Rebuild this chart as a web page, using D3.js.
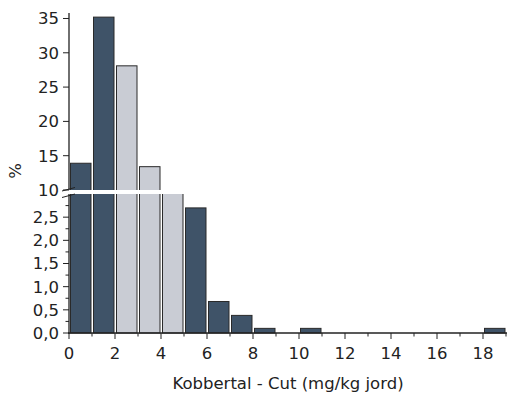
<!DOCTYPE html>
<html>
<head>
  <meta charset="utf-8">
  <style>
    body { margin: 0; background: #fff; }
    text { font-family: "DejaVu Sans", sans-serif; fill: #222; }
  </style>
  <script src="https://d3js.org/d3.v7.min.js"></script>
</head>
<body>
<div id="container"></div>
<script>
// histogram bins (mg/kg) and share of samples (%)
const binStart = [0, 1, 2, 3, 4, 5, 6, 7, 8, 9, 10, 11, 12, 13, 14, 15, 16, 17, 18];
const percent  = [13.9, 35.2, 28.1, 13.4, 9.0, 2.7, 0.68, 0.38, 0.1, 0, 0.1, 0, 0, 0, 0, 0, 0, 0, 0.1];
const shade    = ["d", "d", "l", "l", "l", "d", "d", "d", "d", "d", "d", "d", "d", "d", "d", "d", "d", "d", "d"];
const xTicks = [0, 2, 4, 6, 8, 10, 12, 14, 16, 18];
const lowTicks = [0, 0.5, 1, 1.5, 2, 2.5];
const highTicks = [10, 15, 20, 25, 30, 35];

const width = 507, height = 397;
const colors = { d: "#3f5368", l: "#c9ccd4" };
const fmt = d3.format(".1f");
const fs = 16.5;

const svg = d3.select("#container").append("svg")
  .attr("width", width).attr("height", height);

const x = d3.scaleLinear().domain([0, 19]).range([69, 506]);
const yLow = d3.scaleLinear().domain([0, 3.0]).range([333, 194]);
const yHigh = d3.scaleLinear().domain([10, 35.8]).range([190, 13]);

const defs = svg.append("defs");
defs.append("clipPath").attr("id", "clipLow").append("rect")
  .attr("x", 0).attr("y", 194).attr("width", width).attr("height", 145);
defs.append("clipPath").attr("id", "clipHigh").append("rect")
  .attr("x", 0).attr("y", 0).attr("width", width).attr("height", 190);

const data = binStart.map((b, i) => ({ b: b, v: percent[i], c: shade[i] }));

// lower panel
svg.append("g").attr("clip-path", "url(#clipLow)")
  .selectAll("rect").data(data.filter(d => d.v > 0)).enter().append("rect")
  .attr("x", d => x(d.b) + 1.5)
  .attr("width", d => x(d.b + 1) - x(d.b) - 2.5)
  .attr("y", d => d.v > 3 ? 180 : yLow(d.v))
  .attr("height", d => 333 - (d.v > 3 ? 180 : yLow(d.v)))
  .attr("fill", d => colors[d.c])
  .attr("stroke", "#2a2a2a").attr("stroke-width", 1);

// upper panel
svg.append("g").attr("clip-path", "url(#clipHigh)")
  .selectAll("rect").data(data.filter(d => d.v > 10)).enter().append("rect")
  .attr("x", d => x(d.b) + 1.5)
  .attr("width", d => x(d.b + 1) - x(d.b) - 2.5)
  .attr("y", d => yHigh(d.v))
  .attr("height", d => 200 - yHigh(d.v))
  .attr("fill", d => colors[d.c])
  .attr("stroke", "#2a2a2a").attr("stroke-width", 1);

// axes
const ax = svg.append("g").attr("stroke", "#222").attr("stroke-width", 1.3);
ax.append("line").attr("x1", 69).attr("x2", 69).attr("y1", 13).attr("y2", 190);
ax.append("line").attr("x1", 69).attr("x2", 69).attr("y1", 194).attr("y2", 334);
ax.append("line").attr("x1", 68).attr("x2", 507).attr("y1", 333).attr("y2", 333);

d3.range(0, 3.0, 0.25).forEach(v => {
  const major = Math.abs(v * 2 - Math.round(v * 2)) < 1e-6;
  ax.append("line").attr("x1", major ? 63 : 65.5).attr("x2", 69)
    .attr("y1", yLow(v)).attr("y2", yLow(v)).attr("stroke-width", 1);
});
highTicks.forEach(v => {
  ax.append("line").attr("x1", 63).attr("x2", 69)
    .attr("y1", yHigh(v)).attr("y2", yHigh(v)).attr("stroke-width", 1);
});
d3.range(0, 20, 1).forEach(v => {
  const major = v % 2 === 0;
  ax.append("line").attr("x1", x(v)).attr("x2", x(v))
    .attr("y1", 333).attr("y2", major ? 339 : 336.5).attr("stroke-width", 1);
});

// break marks
ax.append("line").attr("x1", 62).attr("x2", 75).attr("y1", 191).attr("y2", 187.5).attr("stroke-width", 1);
ax.append("line").attr("x1", 62).attr("x2", 75).attr("y1", 197.5).attr("y2", 194).attr("stroke-width", 1);

// tick labels
svg.selectAll(".lowLab").data(lowTicks).enter().append("text")
  .attr("x", 59).attr("y", d => yLow(d)).attr("dy", "0.36em")
  .attr("text-anchor", "end").attr("font-size", fs)
  .text(d => fmt(d).replace(".", ","));
svg.selectAll(".highLab").data(highTicks).enter().append("text")
  .attr("x", 59).attr("y", d => yHigh(d)).attr("dy", "0.36em")
  .attr("text-anchor", "end").attr("font-size", fs)
  .text(d => d);
svg.selectAll(".xLab").data(xTicks).enter().append("text")
  .attr("x", d => x(d)).attr("y", 359)
  .attr("text-anchor", "middle").attr("font-size", fs)
  .text(d => d);

svg.append("text").attr("x", 288).attr("y", 389)
  .attr("text-anchor", "middle").attr("font-size", fs)
  .text("Kobbertal - Cut (mg/kg jord)");
svg.append("text").attr("transform", "translate(21,171) rotate(-90)")
  .attr("text-anchor", "middle").attr("font-size", fs)
  .text("%");
</script>
</body>
</html>
